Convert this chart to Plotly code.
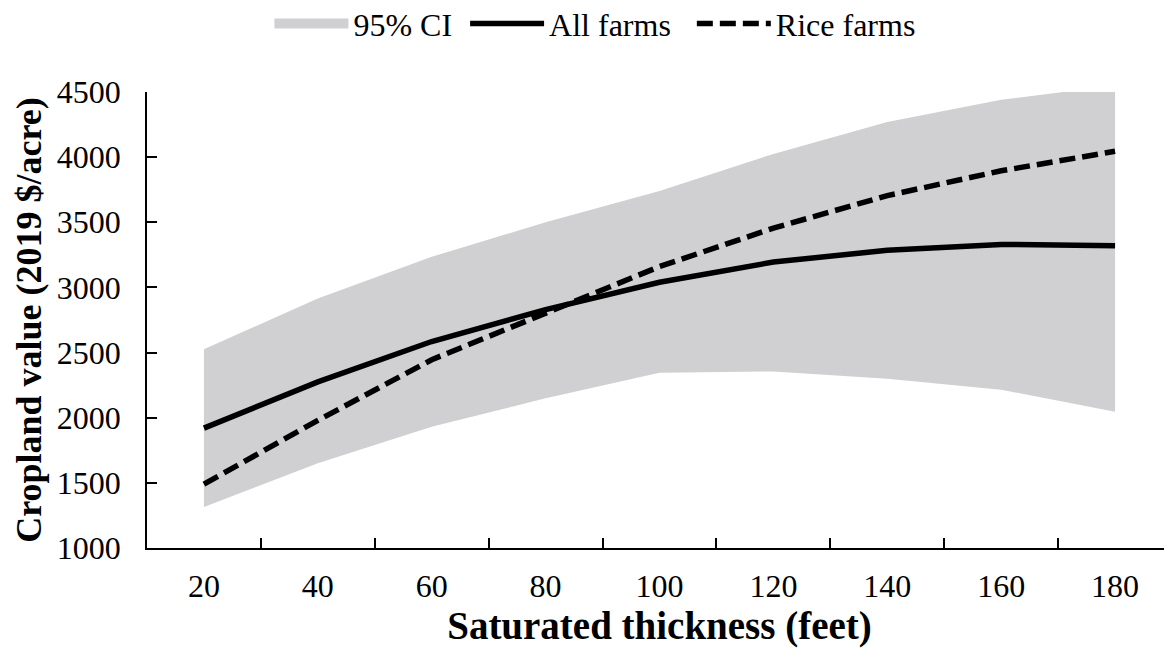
import plotly.graph_objects as go

# ---- data ----
thickness = ["20", "40", "60", "80", "100", "120", "140", "160", "180"]
all_farms = [1920, 2275, 2585, 2830, 3040, 3195, 3285, 3330, 3320]
rice_farms = [1490, 1980, 2445, 2805, 3160, 3455, 3705, 3895, 4045]
ci_upper = [2525, 2915, 3235, 3500, 3740, 4025, 4270, 4440, 4550]
ci_lower = [1315, 1650, 1930, 2150, 2345, 2355, 2300, 2215, 2045]
y_ticks = [1000, 1500, 2000, 2500, 3000, 3500, 4000, 4500]

FONT = "Liberation Serif"
GREY = "#D0CFD1"
NB = "\u00a0"

fig = go.Figure()
fig.add_trace(go.Scatter(x=thickness, y=ci_lower, mode="lines",
                         line=dict(width=0, color=GREY), showlegend=False,
                         hoverinfo="skip"))
fig.add_trace(go.Scatter(x=thickness, y=ci_upper, mode="lines", fill="tonexty",
                         fillcolor=GREY, line=dict(width=0, color=GREY),
                         name="95% CI", showlegend=False, legendgroup="ci"))
# legend entry for the CI band (drawn as a wide grey swatch)
fig.add_trace(go.Scatter(x=[None], y=[None], mode="lines", name="95% CI" + NB,
                         legendgroup="ci", line=dict(color=GREY, width=14)))
fig.add_trace(go.Scatter(x=thickness, y=all_farms, mode="lines",
                         line=dict(color="black", width=5.5), name="All farms" + NB * 2))
fig.add_trace(go.Scatter(x=thickness, y=rice_farms, mode="lines",
                         line=dict(color="black", width=5.5, dash="16px,7px"),
                         name="Rice farms"))

fig.update_layout(
    width=1164, height=648,
    margin=dict(l=139, r=0, t=84, b=108, autoexpand=False),
    paper_bgcolor="white", plot_bgcolor="white",
    font=dict(family=FONT, color="black", size=32),
    legend=dict(orientation="h", x=0.437, xanchor="center", y=1.15, yanchor="middle",
                yref="paper", itemwidth=74, traceorder="normal",
                font=dict(family=FONT, size=32, color="black")),
    showlegend=True,
)

fig.update_xaxes(
    type="category", categoryorder="array", categoryarray=thickness,
    range=[-0.5, 8.5], tickson="boundaries", automargin=False,
    ticks="inside", ticklen=10, tickwidth=1.5, tickcolor="black",
    showline=True, linecolor="black", linewidth=2, showgrid=False, zeroline=False,
    tickfont=dict(family=FONT, size=32), ticklabelstandoff=9,
    title=dict(text="<b>Saturated thickness (feet)</b>", font=dict(family=FONT, size=39),
               standoff=6),
)
fig.update_yaxes(
    range=[1000, 4500], tickvals=y_ticks, automargin=False,
    ticks="inside", ticklen=10, tickwidth=1.5, tickcolor="black",
    showline=True, linecolor="black", linewidth=1.5, showgrid=False, zeroline=False,
    tickfont=dict(family=FONT, size=32), ticklabelstandoff=18,
    title=dict(text="<b>Cropland value (2019 $/acre)</b>", font=dict(family=FONT, size=36),
               standoff=4),
)

fig.write_html("out.html")
